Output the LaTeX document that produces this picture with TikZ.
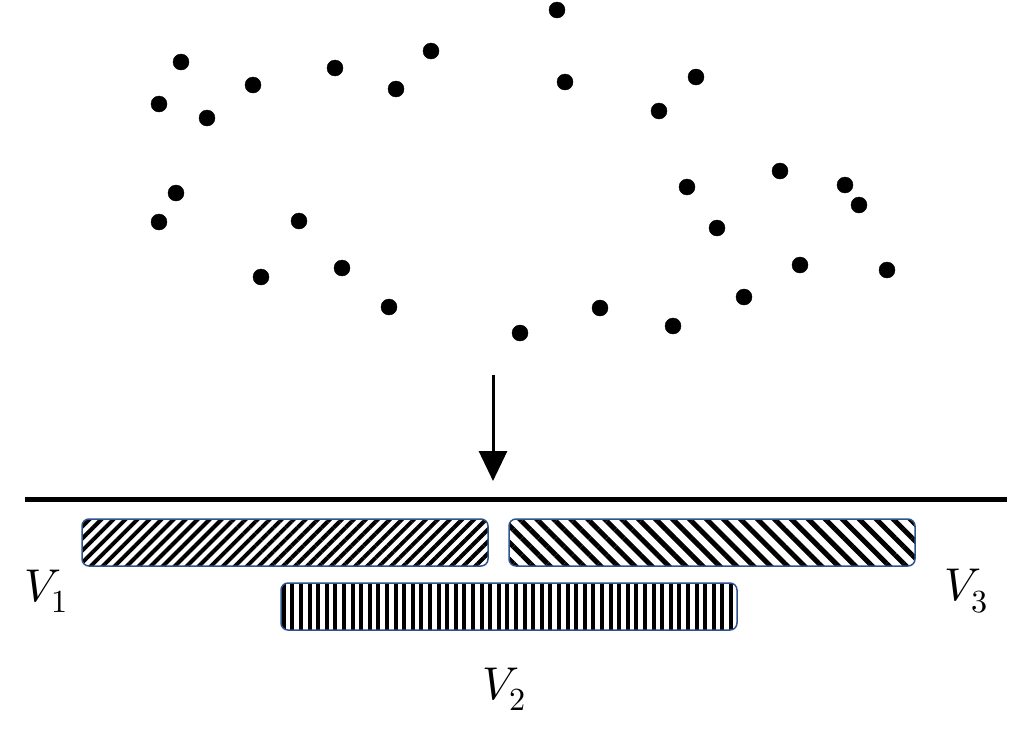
\documentclass[tikz,border=0pt]{standalone}
\usepackage{unicode-math}
\usetikzlibrary{arrows.meta,patterns.meta}
\definecolor{barblue}{RGB}{47,82,143}
\tikzset{
  bar/.style={draw=barblue, line width=1.5pt, rounded corners=7pt},
  vlabel/.style={font=\fontsize{46}{54}\selectfont, inner sep=0pt}
}
\begin{document}
\begin{tikzpicture}[x=1pt,y=-1pt]
                \useasboundingbox (0,0) rectangle (1010,729);
                % points
                \filldraw (557,10) circle (8);
                \filldraw (181,62) circle (8);
                \filldraw (159,104) circle (8);
                \filldraw (207,118) circle (8);
                \filldraw (253,85) circle (8);
                \filldraw (335,68) circle (8);
                \filldraw (396,89) circle (8);
                \filldraw (431,51) circle (8);
                \filldraw (565,82) circle (8);
                \filldraw (659,111) circle (8);
                \filldraw (696,77) circle (8);
                \filldraw (176,193) circle (8);
                \filldraw (159,222) circle (8);
                \filldraw (299,221) circle (8);
                \filldraw (261,277) circle (8);
                \filldraw (342,268) circle (8);
                \filldraw (389,307) circle (8);
                \filldraw (520,333) circle (8);
                \filldraw (600,308) circle (8);
                \filldraw (673,326) circle (8);
                \filldraw (744,297) circle (8);
                \filldraw (800,265) circle (8);
                \filldraw (887,270) circle (8);
                \filldraw (859,205) circle (8);
                \filldraw (845,185) circle (8);
                \filldraw (780,171) circle (8);
                \filldraw (717,228) circle (8);
                \filldraw (687,187) circle (8);

                % arrow
                \coordinate (arrowtop) at (493,375);
                \coordinate (arrowtip) at (493,481);
                \draw [line width=3pt, -{Triangle[width=28pt,length=30pt]}] (arrowtop) -- (arrowtip);

                % axis
                \coordinate (axisleft) at (25,499);
                \coordinate (axisright) at (1007,499);
                \draw [line width=5pt] (axisleft) -- (axisright);

                % bars
                \fill [pattern={Lines[angle=45,distance=8.5pt,line width=4pt]}, rounded corners=7pt] (82,519) rectangle (488,566);
                \draw [bar] (82,519) rectangle (488,566);
                \fill [pattern={Lines[angle=-45,distance=12pt,line width=5pt]}, rounded corners=7pt] (509,519) rectangle (915,566);
                \draw [bar] (509,519) rectangle (915,566);
                \fill [pattern={Lines[angle=90,distance=8.6pt,line width=4pt]}, rounded corners=7pt] (281,583) rectangle (737,630);
                \draw [bar] (281,583) rectangle (737,630);

                % labels
                \node [vlabel] (v1) at (46,591) {$V_1$};
                \node [vlabel] (v3) at (966,591) {$V_3$};
                \node [vlabel] (v2) at (504,689) {$V_2$};
\end{tikzpicture}
\end{document}
